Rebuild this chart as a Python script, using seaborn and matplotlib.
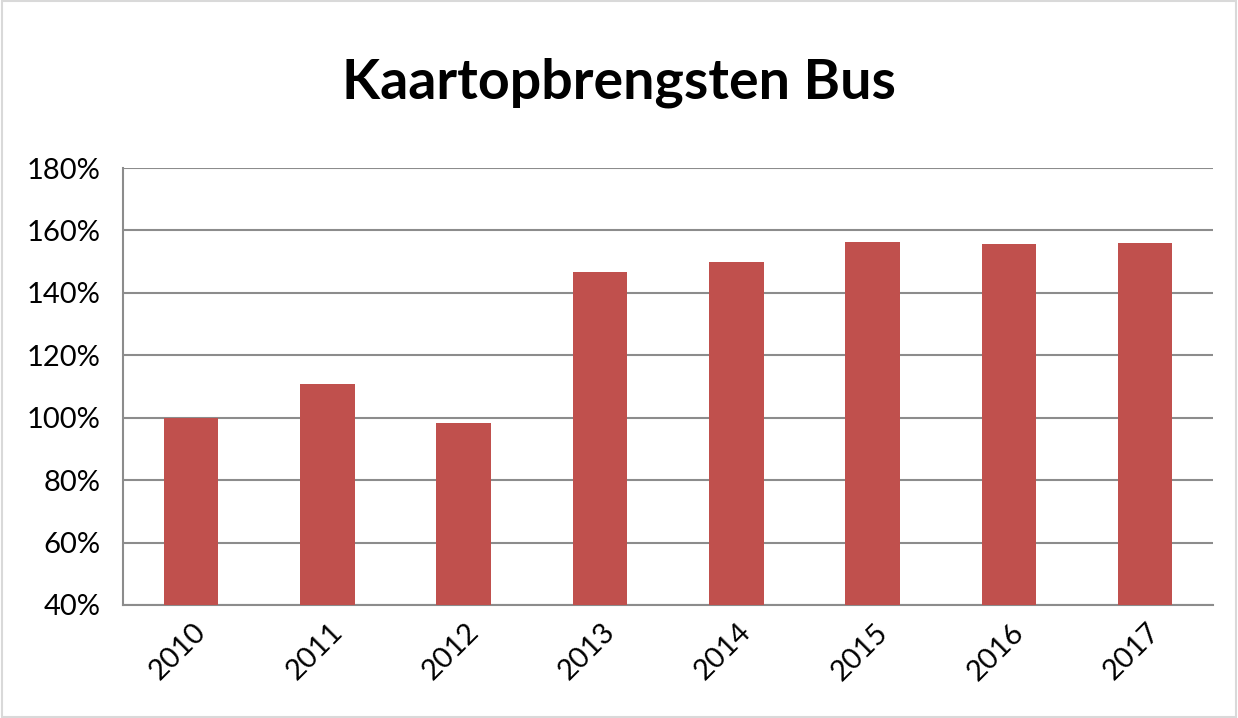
import matplotlib
matplotlib.use('Agg')
import matplotlib.pyplot as plt
import matplotlib.ticker as mticker
import matplotlib.transforms as mtransforms
from matplotlib.patches import Rectangle
import pandas as pd
import seaborn as sns

# Chart data
years = ['2010', '2011', '2012', '2013', '2014', '2015', '2016', '2017']
values = [100.0, 110.7, 98.3, 146.7, 150.0, 156.4, 155.8, 156.0]

df = pd.DataFrame({'Jaar': years, 'Opbrengst': values})

sns.set_style('white')
plt.rcParams['font.family'] = ['Lato', 'DejaVu Sans']
plt.rcParams['text.color'] = 'black'
plt.rcParams['xtick.color'] = 'black'
plt.rcParams['ytick.color'] = 'black'

fig = plt.figure(figsize=(12.38, 7.18), dpi=100)
ax = fig.add_axes([0.0994, 0.1574, 0.8806, 0.6086])

sns.barplot(data=df, x='Jaar', y='Opbrengst', color='#C0504D', width=0.4,
            saturation=1, linewidth=0, ax=ax, zorder=3)

ax.set_ylim(40, 180)
ax.set_xlim(-0.5, len(years) - 0.5)
ax.yaxis.set_major_locator(mticker.MultipleLocator(20))
ax.yaxis.set_major_formatter(mticker.FuncFormatter(lambda v, p: f'{v:.0f}%'))
ax.yaxis.grid(True, color='#8c8c8c', linewidth=1.5, zorder=0)
ax.set_axisbelow(True)

# category boundary ticks on x
ax.set_xticks([i - 0.5 for i in range(len(years) + 1)], minor=True)
ax.tick_params(axis='x', which='minor', length=12, width=1.5, color='#8c8c8c', direction='out')
ax.tick_params(axis='x', which='major', length=0, pad=10, labelsize=21, labelrotation=45)
ax.tick_params(axis='y', length=12, width=1.5, color='#8c8c8c', direction='out', labelsize=21, pad=4)
shift = mtransforms.ScaledTranslation(-0.13, 0, fig.dpi_scale_trans)
for lab in ax.get_xticklabels():
    lab.set_ha('center')
    lab.set_va('top')
    lab.set_transform(lab.get_transform() + shift)

for side in ['top', 'right']:
    ax.spines[side].set_visible(False)
for side in ['left', 'bottom']:
    ax.spines[side].set_color('#8c8c8c')
    ax.spines[side].set_linewidth(1.5)

ax.set_xlabel('')
ax.set_ylabel('')

fig.text(0.5, 0.885, 'Kaartopbrengsten Bus', ha='center', va='center',
         fontsize=40, fontweight='bold')

fig.patches.append(Rectangle((0.002, 0.002), 0.996, 0.996, transform=fig.transFigure,
                             fill=False, edgecolor='#d9d9d9', linewidth=1.5))

fig.savefig('out.png', dpi=100)
